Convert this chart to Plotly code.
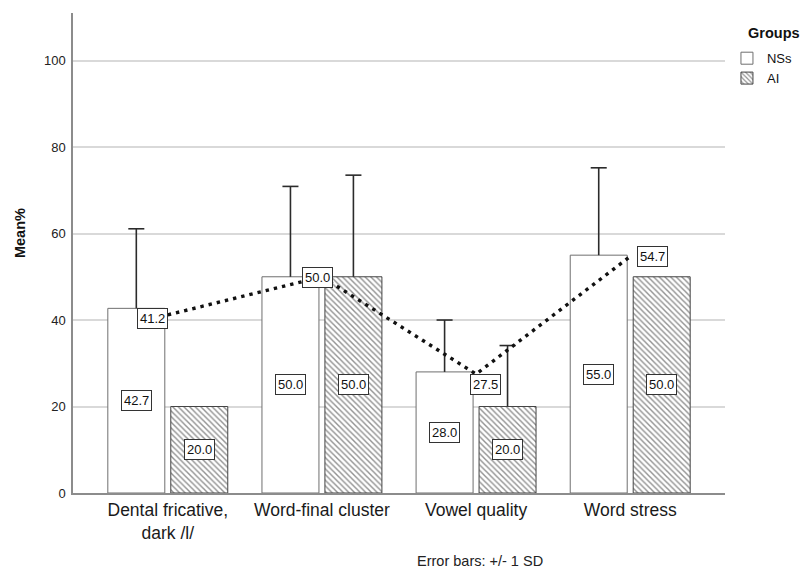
import plotly.graph_objects as go

# Mean percentage per feature for the two groups, with +1 SD error bars
categories = ["Dental fricative,<br>dark /l/", "Word-final cluster", "Vowel quality", "Word stress"]
ns_mean = [42.7, 50.0, 28.0, 55.0]
ai_mean = [20.0, 50.0, 20.0, 50.0]
ns_sd = [18.4, 20.9, 12.0, 20.2]
ai_sd = [None, 23.5, 14.1, None]
# Dotted reference line values
line_vals = [41.2, 50.0, 27.5, 54.7]

FONT = "Liberation Sans, Arial, sans-serif"
BARGAP = 0.183
BARGROUPGAP = 0.095
CAP_HALF = 0.052  # half width of error-bar caps, in category units

x_pos = list(range(len(categories)))
slot = (1 - BARGAP) / 2
ns_x = [i - slot / 2 for i in x_pos]
ai_x = [i + slot / 2 for i in x_pos]

fig = go.Figure()

fig.add_trace(go.Bar(
    name="NSs", x=x_pos, y=ns_mean,
    marker=dict(color="white", line=dict(color="#6f6f6f", width=1)),
))
fig.add_trace(go.Bar(
    name="AI", x=x_pos, y=ai_mean,
    marker=dict(color="white", line=dict(color="#444444", width=1),
                pattern=dict(shape="\\", fgcolor="#262626", bgcolor="white",
                             size=4, solidity=0.36)),
))


def error_path(xs, means, sds):
    """Upper-only error bars: a stem from the bar top plus a cap."""
    px, py = [], []
    for xc, m, sd in zip(xs, means, sds):
        if sd is None:
            continue
        top = m + sd
        px += [xc, xc, None, xc - CAP_HALF, xc + CAP_HALF, None]
        py += [m, top, None, top, top, None]
    return px, py


for xs, means, sds in [(ns_x, ns_mean, ns_sd), (ai_x, ai_mean, ai_sd)]:
    ex, ey = error_path(xs, means, sds)
    fig.add_trace(go.Scatter(
        x=ex, y=ey, mode="lines", showlegend=False, hoverinfo="skip",
        line=dict(color="#2b2b2b", width=1.6),
    ))

fig.add_trace(go.Scatter(
    x=x_pos, y=line_vals, mode="lines", showlegend=False,
    line=dict(color="#111111", width=3.4, dash="3.4px,5px"),
    hoverinfo="skip",
))

annotations = []
box = dict(bgcolor="white", bordercolor="#333333", borderwidth=1, borderpad=2,
           font=dict(family=FONT, size=13, color="#111111"), showarrow=False)

# Value labels centred inside each bar
for xc, v in zip(ns_x, ns_mean):
    annotations.append(dict(x=xc, y=v / 2, text=f"{v:.1f}", **box))
for xc, v in zip(ai_x, ai_mean):
    annotations.append(dict(x=xc, y=v / 2, text=f"{v:.1f}", **box))

# Labels for the dotted line, nudged off the line
line_shifts = [(-15, -4), (-4, -1), (9, -10), (22, 0)]
for xc, v, (dx, dy) in zip(x_pos, line_vals, line_shifts):
    annotations.append(dict(x=xc, y=v, text=f"{v:.1f}", xshift=dx, yshift=dy, **box))

annotations.append(dict(
    x=-0.081, y=0.542, xref="paper", yref="paper", text="<b>Mean%</b>",
    textangle=-90, xanchor="center", yanchor="middle", showarrow=False,
    font=dict(family=FONT, size=14.5, color="#111111"),
))
annotations.append(dict(
    x=0.5245, y=-0.1417, xref="paper", yref="paper", text="Error bars: +/- 1 SD",
    xanchor="left", yanchor="middle", showarrow=False,
    font=dict(family=FONT, size=14.5, color="#222222"),
))
annotations.append(dict(
    x=1.032, y=0.958, xref="paper", yref="paper", text="<b>Groups</b>",
    xanchor="left", yanchor="middle", showarrow=False,
    font=dict(family=FONT, size=14.5, color="#111111"),
))

fig.update_layout(
    width=802, height=572,
    margin=dict(l=73, r=77, t=13, b=79, autoexpand=False),
    paper_bgcolor="white", plot_bgcolor="white",
    barmode="group", bargap=BARGAP, bargroupgap=BARGROUPGAP,
    font=dict(family=FONT, color="#111111"),
    annotations=annotations,
    legend=dict(
        x=1.003, xanchor="left", y=0.937, yanchor="top",
        font=dict(family=FONT, size=13, color="#111111"),
        bgcolor="rgba(0,0,0,0)", tracegroupgap=0,
    ),
    xaxis=dict(
        range=[-0.615, 3.615], tickvals=x_pos, ticktext=categories,
        showline=True, linecolor="#8c8c8c", linewidth=1.5, ticks="",
        showgrid=False, zeroline=False,
        tickfont=dict(family=FONT, size=17.5, color="#1a1a1a"),
    ),
    yaxis=dict(
        range=[0, 111], tickvals=[0, 20, 40, 60, 80, 100], showline=True,
        linecolor="#8c8c8c", linewidth=1.5, ticks="", zeroline=False,
        showgrid=True, gridcolor="#d9d9d9", gridwidth=1.5,
        tickfont=dict(family=FONT, size=13, color="#222222"),
        ticklabelstandoff=3,
    ),
)

fig.write_html("out.html")
